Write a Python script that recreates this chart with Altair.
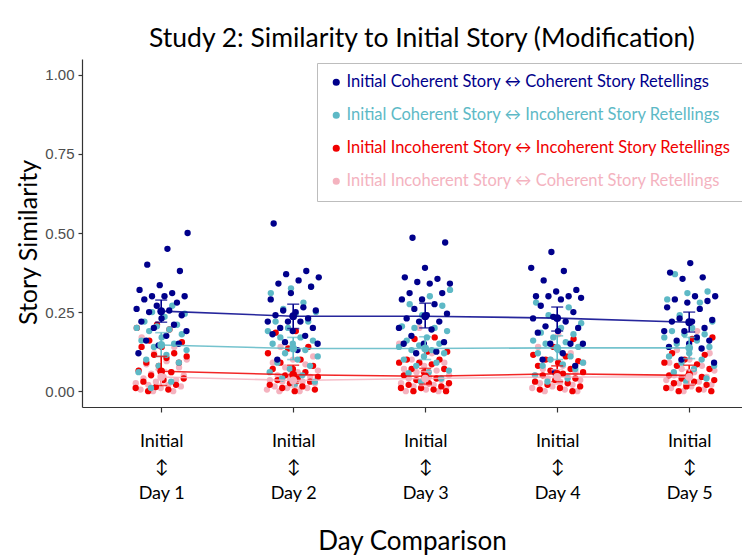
import altair as alt
import pandas as pd

# Group labels (legend order)
groups = [
    "Initial Coherent Story \u2194 Coherent Story Retellings",
    "Initial Coherent Story \u2194 Incoherent Story Retellings",
    "Initial Incoherent Story \u2194 Incoherent Story Retellings",
    "Initial Incoherent Story \u2194 Coherent Story Retellings",
]
colors = ["#00008B", "#5DB9C6", "#F00000", "#F4B3BF"]
days = [1, 2, 3, 4, 5]

# Individual similarity scores per day comparison
coh_coh = {
    1: [0.50, 0.45, 0.40, 0.38, 0.335, 0.32, 0.31, 0.30, 0.30, 0.30, 0.29, 0.28, 0.27, 0.26,
        0.255, 0.25, 0.24, 0.23, 0.22, 0.21, 0.20, 0.19, 0.175, 0.16, 0.15, 0.145, 0.12],
    2: [0.53, 0.38, 0.37, 0.36, 0.35, 0.34, 0.33, 0.31, 0.29, 0.265, 0.255, 0.255, 0.25, 0.24,
        0.23, 0.22, 0.22, 0.22, 0.20, 0.20, 0.19, 0.18, 0.175, 0.155, 0.15, 0.13, 0.10],
    3: [0.485, 0.47, 0.39, 0.36, 0.355, 0.345, 0.34, 0.34, 0.31, 0.31, 0.29, 0.29, 0.275, 0.26,
        0.245, 0.24, 0.23, 0.22, 0.22, 0.20, 0.195, 0.175, 0.155, 0.15, 0.15, 0.125, 0.12],
    4: [0.44, 0.39, 0.38, 0.35, 0.32, 0.315, 0.30, 0.30, 0.30, 0.295, 0.29, 0.27, 0.25, 0.235,
        0.23, 0.22, 0.205, 0.20, 0.19, 0.185, 0.15, 0.15, 0.15, 0.12, 0.10, 0.08, 0.06],
    5: [0.405, 0.375, 0.36, 0.355, 0.30, 0.30, 0.29, 0.285, 0.28, 0.265, 0.26, 0.23, 0.225,
        0.22, 0.22, 0.20, 0.19, 0.19, 0.17, 0.16, 0.16, 0.15, 0.14, 0.135, 0.10, 0.09],
}
coh_incoh = {
    1: [0.27, 0.25, 0.245, 0.235, 0.22, 0.21, 0.205, 0.20, 0.195, 0.19, 0.18, 0.17, 0.16,
        0.15, 0.14, 0.13, 0.115, 0.10, 0.09, 0.08, 0.06, 0.03, 0.01],
    2: [0.33, 0.325, 0.31, 0.28, 0.26, 0.25, 0.245, 0.22, 0.22, 0.20, 0.19, 0.17, 0.17, 0.16,
        0.15, 0.15, 0.13, 0.12, 0.11, 0.10, 0.09, 0.08, 0.07, 0.06, 0.05, 0.04, 0.03, 0.02],
    3: [0.32, 0.30, 0.275, 0.27, 0.24, 0.205, 0.20, 0.20, 0.19, 0.17, 0.16, 0.15, 0.145,
        0.14, 0.13, 0.13, 0.12, 0.11, 0.10, 0.09, 0.08, 0.065, 0.06, 0.057, 0.04, 0.03],
    4: [0.28, 0.265, 0.24, 0.215, 0.20, 0.185, 0.18, 0.17, 0.16, 0.155, 0.15, 0.14, 0.13,
        0.12, 0.11, 0.10, 0.09, 0.085, 0.08, 0.07, 0.06, 0.05, 0.04, 0.03],
    5: [0.37, 0.315, 0.31, 0.29, 0.28, 0.24, 0.22, 0.20, 0.19, 0.18, 0.18, 0.17, 0.16, 0.15,
        0.14, 0.12, 0.11, 0.10, 0.09, 0.08, 0.07, 0.06, 0.04, 0.03],
}
incoh_incoh = {
    1: [0.21, 0.20, 0.195, 0.16, 0.155, 0.14, 0.14, 0.12, 0.115, 0.11, 0.105, 0.09, 0.09,
        0.08, 0.065, 0.06, 0.05, 0.04, 0.035, 0.03, 0.02, 0.013, 0.01, 0.005, 0.0],
    2: [0.19, 0.185, 0.14, 0.135, 0.12, 0.10, 0.09, 0.08, 0.07, 0.07, 0.06, 0.05, 0.045,
        0.04, 0.035, 0.03, 0.025, 0.02, 0.015, 0.01, 0.005, 0.0],
    3: [0.17, 0.165, 0.125, 0.125, 0.10, 0.10, 0.09, 0.09, 0.085, 0.07, 0.07, 0.06, 0.05,
        0.04, 0.035, 0.025, 0.025, 0.02, 0.015, 0.01, 0.01, 0.005, 0.0, 0.0],
    4: [0.165, 0.14, 0.115, 0.11, 0.10, 0.095, 0.09, 0.08, 0.07, 0.065, 0.06, 0.055, 0.05,
        0.04, 0.035, 0.03, 0.025, 0.02, 0.015, 0.01, 0.005, 0.0],
    5: [0.17, 0.165, 0.12, 0.115, 0.10, 0.09, 0.085, 0.08, 0.07, 0.06, 0.05, 0.045, 0.04,
        0.035, 0.03, 0.025, 0.02, 0.015, 0.01, 0.005, 0.0, 0.0],
}
incoh_coh = {
    1: [0.17, 0.14, 0.12, 0.10, 0.095, 0.085, 0.075, 0.07, 0.065, 0.06, 0.055, 0.05, 0.045,
        0.04, 0.035, 0.03, 0.025, 0.02, 0.02, 0.015, 0.01, 0.005, 0.0, 0.0],
    2: [0.14, 0.11, 0.10, 0.09, 0.085, 0.075, 0.065, 0.06, 0.05, 0.045, 0.04, 0.035, 0.03,
        0.03, 0.025, 0.02, 0.015, 0.01, 0.01, 0.005, 0.0, 0.0],
    3: [0.20, 0.15, 0.12, 0.10, 0.09, 0.08, 0.07, 0.065, 0.06, 0.05, 0.045, 0.04, 0.035,
        0.03, 0.025, 0.02, 0.015, 0.01, 0.005, 0.0, 0.0],
    4: [0.18, 0.14, 0.12, 0.10, 0.09, 0.08, 0.07, 0.06, 0.055, 0.05, 0.045, 0.04, 0.035,
        0.03, 0.025, 0.02, 0.015, 0.01, 0.005, 0.0, 0.0],
    5: [0.19, 0.13, 0.12, 0.10, 0.09, 0.08, 0.07, 0.065, 0.06, 0.05, 0.045, 0.04, 0.035,
        0.03, 0.025, 0.02, 0.015, 0.01, 0.005, 0.0],
}

# Group means with error bar bounds per day
mean_cc = [0.253, 0.237, 0.237, 0.231, 0.218]
lo_cc = [0.218, 0.198, 0.200, 0.190, 0.187]
hi_cc = [0.288, 0.275, 0.278, 0.266, 0.250]
mean_ci = [0.146, 0.135, 0.135, 0.137, 0.137]
lo_ci = [0.110, 0.100, 0.100, 0.100, 0.103]
hi_ci = [0.185, 0.170, 0.172, 0.175, 0.170]
mean_ii = [0.063, 0.052, 0.047, 0.055, 0.050]
lo_ii = [0.018, 0.025, 0.022, 0.030, 0.020]
hi_ii = [0.110, 0.082, 0.072, 0.080, 0.082]
mean_ic = [0.045, 0.034, 0.040, 0.045, 0.045]
lo_ic = [0.022, 0.012, 0.018, 0.022, 0.022]
hi_ic = [0.068, 0.056, 0.062, 0.068, 0.068]

point_sets = [incoh_coh, incoh_incoh, coh_incoh, coh_coh]
point_groups = [groups[3], groups[2], groups[1], groups[0]]

rows = []
for gi, (g, sets) in enumerate(zip(point_groups, point_sets)):
    for d in days:
        for k, v in enumerate(sets[d]):
            # deterministic horizontal spread of points around each day
            spread = ((k * 0.6180339887 + gi * 0.29 + d * 0.13) % 1.0 - 0.5) * 0.40
            rows.append({"group": g, "xpos": d + spread, "similarity": v})
points = pd.DataFrame(rows)

summary_rows = []
for g, m, lo, hi in zip(groups,
                        [mean_cc, mean_ci, mean_ii, mean_ic],
                        [lo_cc, lo_ci, lo_ii, lo_ic],
                        [hi_cc, hi_ci, hi_ii, hi_ic]):
    for i, d in enumerate(days):
        summary_rows.append({"group": g, "day": d, "mean": m[i], "lo": lo[i], "hi": hi[i]})
summary = pd.DataFrame(summary_rows)

FONT = "Lato"
color_scale = alt.Scale(domain=groups, range=colors)
x_scale = alt.Scale(domain=[0.4, 5.4], nice=False, zero=False)
y_scale = alt.Scale(domain=[-0.05, 1.05], nice=False, zero=False)

x_axis = alt.Axis(
    values=days,
    labelExpr="['Initial', '\u2195', 'Day ' + datum.value]",
    labelFont=FONT, labelFontSize=18, labelColor="black", labelLineHeight=26,
    labelPadding=20, tickSize=5, grid=False,
    title="Day Comparison", titleFont=FONT, titleFontSize=26,
    titleFontWeight="normal", titleColor="black", titlePadding=26,
)
y_axis = alt.Axis(
    values=[0, 0.25, 0.5, 0.75, 1.0], format=".2f",
    labelFont="Liberation Sans", labelFontSize=15, labelColor="#4D4D4D",
    labelPadding=4, tickSize=4, grid=False,
    title="Story Similarity", titleFont=FONT, titleFontSize=25,
    titleFontWeight="normal", titleColor="black", titlePadding=3, titleY=183,
)

legend = alt.Legend(
    title=None, orient="none", legendX=235, legendY=4,
    labelFont=FONT, labelFontSize=16.5, labelLimit=500, labelOffset=2,
    labelColor=alt.ExprRef(expr="scale('color', datum.value)"),
    symbolType="circle", symbolSize=32, rowPadding=16,
    padding=11, strokeColor="#BDBDBD", fillColor="white",
)

pts = alt.Chart(points).mark_circle(size=40, opacity=1).encode(
    x=alt.X("xpos:Q", scale=x_scale, axis=x_axis),
    y=alt.Y("similarity:Q", scale=y_scale, axis=y_axis),
    color=alt.Color("group:N", scale=color_scale, legend=legend),
)

base = alt.Chart(summary).encode(
    x=alt.X("day:Q", scale=x_scale),
    color=alt.Color("group:N", scale=color_scale, legend=None),
)
lines = base.mark_line(strokeWidth=1.6, opacity=0.85).encode(y=alt.Y("mean:Q", scale=y_scale))
bars = base.mark_rule(strokeWidth=1.6).encode(y=alt.Y("lo:Q", scale=y_scale), y2="hi:Q")
cap_lo = base.mark_tick(orient="horizontal", size=12, thickness=1.6).encode(y=alt.Y("lo:Q", scale=y_scale))
cap_hi = base.mark_tick(orient="horizontal", size=12, thickness=1.6).encode(y=alt.Y("hi:Q", scale=y_scale))
dots = base.mark_circle(size=60, opacity=1).encode(y=alt.Y("mean:Q", scale=y_scale))

chart = alt.layer(pts, lines, bars, cap_lo, cap_hi, dots).properties(
    width=660, height=348,
    title=alt.TitleParams(
        text="Study 2: Similarity to Initial Story (Modification)",
        font=FONT, fontSize=26.5, fontWeight="normal", color="black",
        anchor="middle", offset=7, dx=10,
    ),
    autosize=alt.AutoSizeParams(type="none"),
    padding={"left": 82, "top": 59, "right": 0, "bottom": 151},
).configure_view(strokeOpacity=0).configure_axis(
    domainColor="#333333", tickColor="#333333", domainWidth=1.2, tickWidth=1.2
)

chart.save("out.html", embed_options={"renderer": "svg", "actions": False})
